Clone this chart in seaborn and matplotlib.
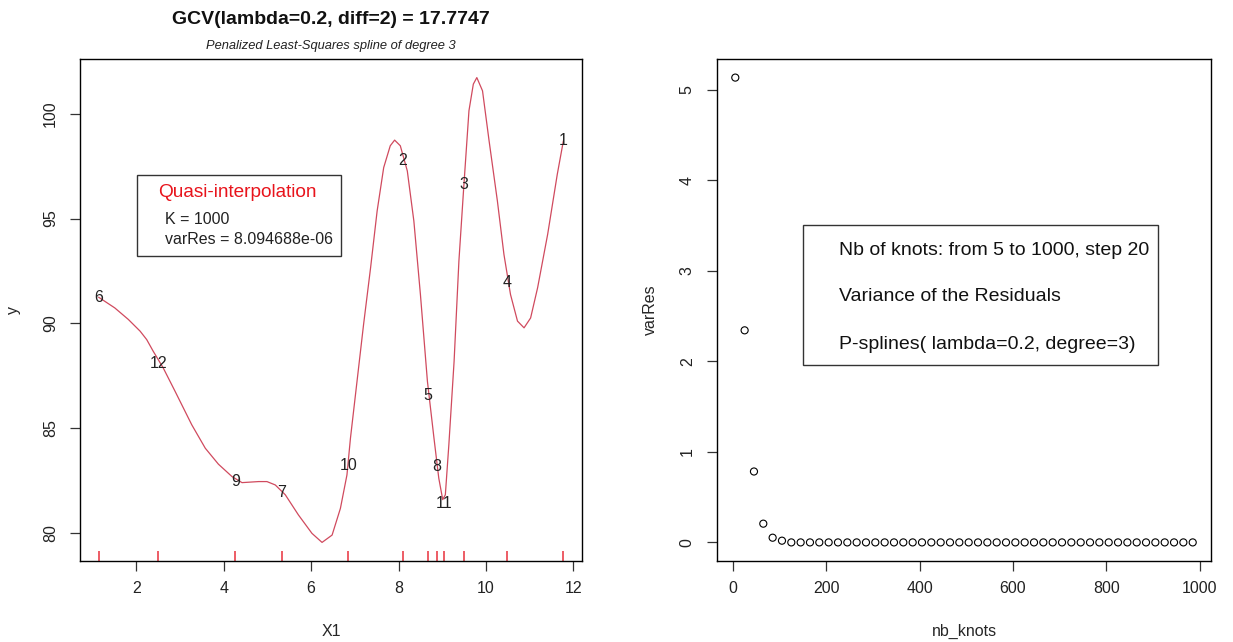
import matplotlib
matplotlib.use("Agg")
import matplotlib.pyplot as plt
import matplotlib.patches as mpatches
import seaborn as sns
import pandas as pd

# ---------------- data ----------------
# fitted P-spline curve
curve_x = [1.14, 1.51, 1.82, 2.09, 2.24, 2.39, 2.62, 2.89, 3.27, 3.58,
           3.88, 4.19, 4.42, 4.80, 4.99, 5.18, 5.41, 5.71, 6.02, 6.25,
           6.48, 6.67, 6.82, 6.90, 7.05, 7.20, 7.36, 7.51, 7.66, 7.81,
           7.91, 8.04, 8.20, 8.35, 8.50, 8.66, 8.81, 8.92, 9.01, 9.07,
           9.15, 9.27, 9.38, 9.49, 9.61, 9.71, 9.79, 9.92, 10.07, 10.26,
           10.41, 10.56, 10.72, 10.87, 11.02, 11.18, 11.41, 11.63, 11.77]
curve_y = [91.25, 90.74, 90.19, 89.63, 89.23, 88.67, 87.87, 86.76, 85.17, 84.05,
           83.29, 82.70, 82.41, 82.46, 82.46, 82.30, 81.83, 80.87, 79.99, 79.56,
           79.91, 81.18, 82.78, 84.53, 87.24, 89.95, 92.65, 95.36, 97.43, 98.47,
           98.74, 98.47, 97.27, 94.88, 91.38, 87.24, 84.53, 82.62, 81.60, 81.83,
           84.21, 88.19, 92.97, 96.47, 100.14, 101.41, 101.72, 101.09, 98.71, 95.84,
           93.29, 91.38, 90.11, 89.79, 90.26, 91.70, 94.25, 97.11, 98.71]

# observations (labelled by their index)
obs_label = ["6", "12", "9", "7", "10", "2", "5", "8", "11", "3", "4", "1"]
obs_x = [1.14, 2.51, 4.27, 5.33, 6.85, 8.10, 8.68, 8.88, 9.04, 9.49, 10.49, 11.77]
obs_y = [91.22, 88.11, 82.46, 81.95, 83.23, 97.78, 86.56, 83.18, 81.42, 96.60, 91.97, 98.71]

left_xticks = [2, 4, 6, 8, 10, 12]
left_yticks = [80, 85, 90, 95, 100]

# variance of residuals vs number of knots
nb_knots = [5, 25, 45, 65, 85, 105, 125, 145, 165, 185,
            205, 225, 245, 265, 285, 305, 325, 345, 365, 385,
            405, 425, 445, 465, 485, 505, 525, 545, 565, 585,
            605, 625, 645, 665, 685, 705, 725, 745, 765, 785,
            805, 825, 845, 865, 885, 905, 925, 945, 965, 985]
var_res = [5.133, 2.342, 0.783, 0.207, 0.052, 0.019, 0.0, 0.0, 0.0, 0.0,
           0.0, 0.0, 0.0, 0.0, 0.0, 0.0, 0.0, 0.0, 0.0, 0.0,
           0.0, 0.0, 0.0, 0.0, 0.0, 0.0, 0.0, 0.0, 0.0, 0.0,
           0.0, 0.0, 0.0, 0.0, 0.0, 0.0, 0.0, 0.0, 0.0, 0.0,
           0.0, 0.0, 0.0, 0.0, 0.0, 0.0, 0.0, 0.0, 0.0, 0.0]
right_xticks = [0, 200, 400, 600, 800, 1000]
right_yticks = [0, 1, 2, 3, 4, 5]

title_main = "GCV(lambda=0.2, diff=2) = 17.7747"
title_sub = "Penalized Least-Squares spline of degree 3"
legend_left = ["Quasi-interpolation", "K = 1000", "varRes = 8.094688e-06"]
legend_right = ["Nb of knots: from 5 to 1000, step 20",
                "Variance of the Residuals",
                "P-splines( lambda=0.2, degree=3)"]

# ---------------- style ----------------
sns.set_style("ticks")
plt.rcParams["font.family"] = ["Liberation Sans", "DejaVu Sans"]
plt.rcParams["axes.edgecolor"] = "black"
plt.rcParams["axes.linewidth"] = 1.0

W, H = 1233, 642
fig = plt.figure(figsize=(W / 100, H / 100), dpi=100)
fig.patch.set_facecolor("white")


def fx(px):
    return px / W


def fy(py):
    return 1 - py / H


ax1 = fig.add_axes([fx(80), fy(561), (582 - 80) / W, (561 - 59) / H])
ax2 = fig.add_axes([fx(717), fy(561), (1211 - 717) / W, (561 - 59) / H])

BASE = 11.5
curve_col = "#d04a5e"
rug_col = "#e8303c"

# ---------------- left panel ----------------
curve_df = pd.DataFrame({"X1": curve_x, "y": curve_y})
sns.lineplot(data=curve_df, x="X1", y="y", ax=ax1, color=curve_col,
             linewidth=0.9, sort=False, estimator=None)
sns.rugplot(x=obs_x, ax=ax1, height=0.02, color=rug_col, linewidth=1.1,
            expand_margins=False)
for lab, xv, yv in zip(obs_label, obs_x, obs_y):
    ax1.text(xv, yv, lab, ha="center", va="center", fontsize=BASE, color="#222222")

xr = max(curve_x) - min(curve_x)
yr = max(curve_y) - min(curve_y)
ax1.set_xlim(min(curve_x) - 0.04 * xr, max(curve_x) + 0.04 * xr)
ax1.set_ylim(min(curve_y) - 0.04 * yr, max(curve_y) + 0.04 * yr)
ax1.set_xticks(left_xticks)
ax1.set_yticks(left_yticks)
ax1.set_xlabel("X1", fontsize=BASE, labelpad=20)
ax1.set_ylabel("y", fontsize=BASE, labelpad=16)

# ---------------- right panel ----------------
res_df = pd.DataFrame({"nb_knots": nb_knots, "varRes": var_res})
sns.scatterplot(data=res_df, x="nb_knots", y="varRes", ax=ax2, marker="o",
                s=26, facecolors="none", edgecolor="black", linewidth=0.8)
xr2 = max(nb_knots) - min(nb_knots)
yr2 = max(var_res) - min(var_res)
ax2.set_xlim(min(nb_knots) - 0.04 * xr2, max(nb_knots) + 0.04 * xr2)
ax2.set_ylim(min(var_res) - 0.04 * yr2, max(var_res) + 0.04 * yr2)
ax2.set_xticks(right_xticks)
ax2.set_yticks(right_yticks)
ax2.set_xlabel("nb_knots", fontsize=BASE, labelpad=20)
ax2.set_ylabel("varRes", fontsize=BASE, labelpad=16)

for ax in (ax1, ax2):
    for s in ax.spines.values():
        s.set_visible(True)
        s.set_color("black")
        s.set_linewidth(1.0)
    ax.tick_params(direction="out", length=7, width=0.9, color="#333333",
                   labelsize=BASE, labelcolor="#222222")
    ax.tick_params(axis="x", pad=7.5)
    ax.tick_params(axis="y", pad=9)
    for lab in ax.get_yticklabels():
        lab.set_rotation(90)
        lab.set_va("center")
    ax.grid(False)

# ---------------- titles ----------------
cx = (80 + 582) / 2
fig.text(fx(cx), fy(19), title_main, ha="center", va="center",
         fontsize=14, fontweight="bold", color="#111111")
fig.text(fx(cx), fy(46), title_sub, ha="center", va="center",
         fontsize=9.3, fontstyle="italic", color="#222222")

# ---------------- legend boxes ----------------
def box(x0, y0, x1, y1):
    r = mpatches.Rectangle((fx(x0), fy(y1)), (x1 - x0) / W, (y1 - y0) / H,
                           transform=fig.transFigure, facecolor="white",
                           edgecolor="#333333", linewidth=1.0, zorder=5)
    fig.patches.append(r)


box(136.7, 175, 341, 256)
fig.text(fx(158), fy(192.7), legend_left[0], ha="left", va="center",
         fontsize=13.7, color="#e8141c", zorder=6)
fig.text(fx(165), fy(220), legend_left[1], ha="left", va="center",
         fontsize=BASE, color="#222222", zorder=6)
fig.text(fx(165), fy(239.3), legend_left[2], ha="left", va="center",
         fontsize=BASE, color="#222222", zorder=6)

box(803.3, 225, 1158, 365)
for txt, yy in zip(legend_right, [250.7, 296.7, 344.3]):
    fig.text(fx(839.3), fy(yy), txt, ha="left", va="center",
             fontsize=14, color="#111111", zorder=6)

fig.savefig("out.png", dpi=100, facecolor="white")
